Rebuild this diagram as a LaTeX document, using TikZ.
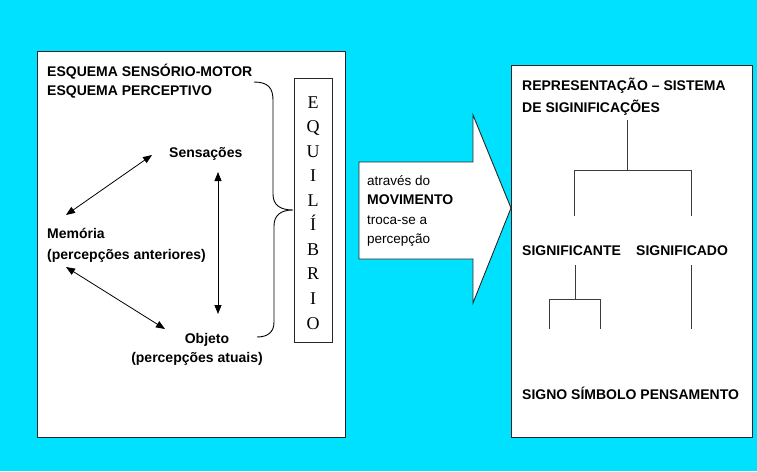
\documentclass[tikz,border=0pt]{standalone}
\usepackage{fontspec}
\setmainfont{Liberation Sans}
\newfontfamily\seriffont{Liberation Serif}
\usetikzlibrary{arrows.meta}
\definecolor{bgcyan}{RGB}{0,225,255}
\definecolor{treegray}{RGB}{60,60,60}
\tikzset{
  lbl/.style={font=\bfseries\fontsize{14}{16}\selectfont, inner sep=0pt, anchor=base west},
  lblc/.style={font=\bfseries\fontsize{14}{16}\selectfont, inner sep=0pt, anchor=base},
  small/.style={font=\fontsize{13.5}{16}\selectfont, inner sep=0pt, anchor=base west},
  smallb/.style={font=\bfseries\fontsize{14}{16}\selectfont, inner sep=0pt, anchor=base west},
  eqletter/.style={font=\seriffont\fontsize{18}{20}\selectfont, inner sep=0pt, anchor=base},
  panel/.style={draw=black!85, line width=0.9pt, fill=white},
  dbl/.style={line width=0.8pt, {Triangle[length=9pt,width=7pt]}-{Triangle[length=9pt,width=7pt]}},
  treeline/.style={draw=treegray, line width=1pt},
}
\begin{document}
\begin{tikzpicture}[x=1pt,y=-1pt]
\fill[bgcyan] (0,0) rectangle (757,471);
\useasboundingbox (0,0) rectangle (757,471);

% left panel
\draw[panel] (37,51) rectangle (345,437);
\node[lbl] (t1) at (47,76) {ESQUEMA SENSÓRIO-MOTOR};
\node[lbl] (t2) at (47,95) {ESQUEMA PERCEPTIVO};
\node[lbl] (sens) at (169,157) {Sensações};
\node[lbl] (mem) at (47,238) {Memória};
\node[lbl] (memp) at (47,259) {(percepções anteriores)};
\node[lblc] (obj) at (207,343) {Objeto};
\node[lblc] (objp) at (197,362) {(percepções atuais)};

% equilibrio box
\draw[panel] (294,78) rectangle (332,342);
\foreach \c [count=\i from 0] in {E,Q,U,I,L,Í,B,R,I,O}{
  \node[eqletter] (eq\i) at (313,108+24.56*\i) {\c};
}

% brace
\coordinate (brTop) at (254,82);
\coordinate (brTip) at (293,210);
\coordinate (brBot) at (257,337);
\draw[line width=0.9pt] (brTop) .. controls (268,82) and (273,88) .. (273,100)
  -- (273,194) .. controls (273,205) and (280,210) .. (brTip)
  .. controls (281,210) and (274,215) .. (274,226)
  -- (274,322) .. controls (274,332) and (268,337) .. (brBot);

% arrows
\coordinate (a1) at (66,215);
\coordinate (a2) at (152,155);
\coordinate (b1) at (218,172);
\coordinate (b2) at (218,314);
\coordinate (c1) at (66,267);
\coordinate (c2) at (165,329);
\draw[dbl] (a1) -- (a2);
\draw[dbl] (b1) -- (b2);
\draw[dbl] (c1) -- (c2);

% big arrow
\draw[fill=white, draw=black!85, line width=0.9pt]
  (359,162) -- (473,162) -- (473,115) -- (511,208) -- (473,303) -- (473,259) -- (359,259) -- cycle;
\node[small] (m1) at (367,185) {através do};
\node[smallb] (m2) at (367,204) {MOVIMENTO};
\node[small] (m3) at (367,224) {troca-se a};
\node[small] (m4) at (367,243) {percepção};

% right panel
\draw[panel] (511,65) rectangle (752,437);
\node[lbl] (r1) at (522,90) {REPRESENTAÇÃO – SISTEMA};
\node[lbl] (r2) at (522,112) {DE SIGINIFICAÇÕES};
\node[lbl] (sig) at (522,255) {SIGNIFICANTE};
\node[lbl] (sigd) at (636,255) {SIGNIFICADO};
\node[lbl] (sps) at (522,399) {SIGNO SÍMBOLO PENSAMENTO};

% tree
\coordinate (tA) at (627,120);
\coordinate (tB) at (627,170);
\coordinate (tL) at (574,170);
\coordinate (tR) at (691,170);
\coordinate (tLd) at (574,216);
\coordinate (tRd) at (691,216);
\draw[treeline] (tA) -- (tB);
\draw[treeline] (tLd) -- (tL) -- (tR) -- (tRd);
\coordinate (sA) at (575,265);
\coordinate (sB) at (575,299);
\coordinate (sL) at (549,299);
\coordinate (sR) at (600,299);
\coordinate (sLd) at (549,329);
\coordinate (sRd) at (600,329);
\draw[treeline] (sA) -- (sB);
\draw[treeline] (sLd) -- (sL) -- (sR) -- (sRd);
\coordinate (dA) at (691,265);
\coordinate (dB) at (691,329);
\draw[treeline] (dA) -- (dB);
\end{tikzpicture}
\end{document}
